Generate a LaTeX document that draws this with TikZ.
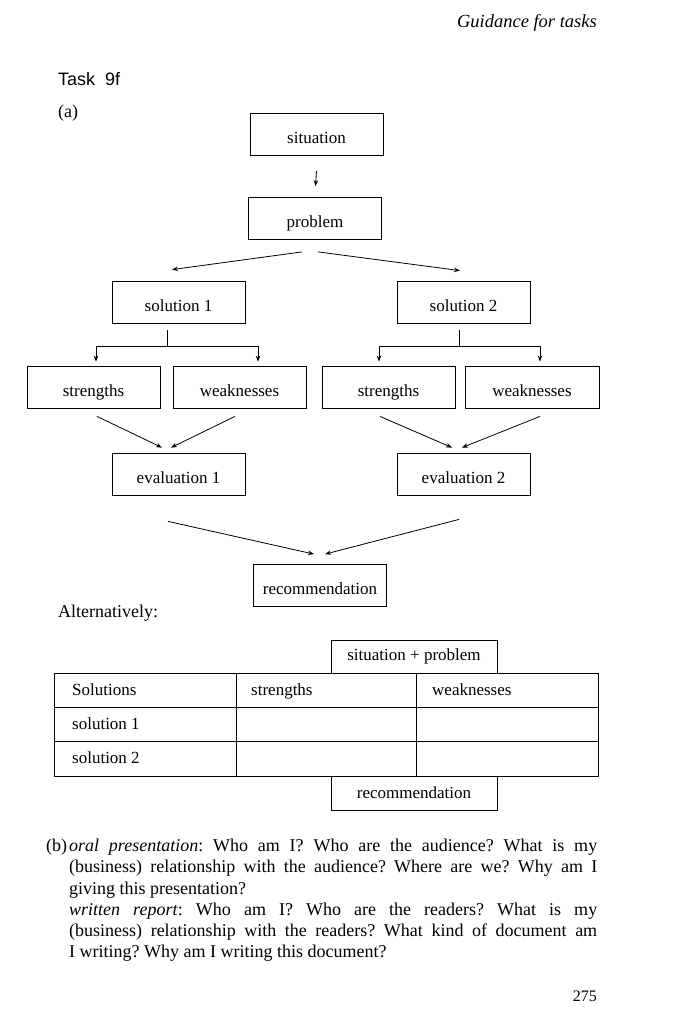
\documentclass[tikz,border=0pt]{standalone}
\usepackage{fontspec}
\setmainfont{Liberation Serif}
\newfontfamily\sansf{Liberation Sans}
\usetikzlibrary{arrows.meta,calc}
\frenchspacing
\begin{document}
\begin{tikzpicture}[x=1pt,y=-1pt,
  box/.style={draw, line width=0.8pt, minimum width=133pt, minimum height=42pt, inner sep=0pt, text height=20pt, text depth=2pt, font=\fontsize{17}{19}\selectfont},
  arr/.style={-{Stealth[length=6pt,width=4.5pt]}, line width=0.8pt},
  ln/.style={line width=0.8pt},
  body/.style={inner sep=0pt, font=\fontsize{18}{21.2}\selectfont},
  cell/.style={inner sep=0pt, anchor=base west, font=\fontsize{17}{19}\selectfont}]
\useasboundingbox (0,0) rectangle (676,1024);

% header
\node[inner sep=0pt, anchor=base east, font=\fontsize{18.5}{22}\selectfont\itshape] (head) at (597,28) {Guidance for tasks};
\node[inner sep=0pt, anchor=base west, font=\fontsize{18}{20}\sansf] (task) at (58,86) {Task\ \ 9f};
\node[body, anchor=base west] (pa) at (58,118) {(a)};

% flowchart boxes
\node[box] (sit) at (316.5,134.5) {situation};
\node[box] (prob) at (315,218.5) {problem};
\node[box] (sol1) at (178.5,302) {solution 1};
\node[box] (sol2) at (463.5,302) {solution 2};
\node[box] (str1) at (93.5,387) {strengths};
\node[box] (weak1) at (239.5,387) {weaknesses};
\node[box] (str2) at (388.5,387) {strengths};
\node[box, minimum width=134pt] (weak2) at (532,387) {weaknesses};
\node[box] (ev1) at (178.5,474) {evaluation 1};
\node[box] (ev2) at (463.5,474) {evaluation 2};
\node[box] (rec) at (320,585.5) {recommendation};

% connectors
\draw[arr] ($(sit.south)+(0,15)$) -- ($(prob.north)+(0.5,-11)$);
\draw[arr] ($(prob.south)+(-13,12)$) -- ($(sol1.north)+(-6.5,-11)$);
\draw[arr] ($(prob.south)+(3,12)$) -- ($(sol2.north)+(-3.5,-10)$);

\coordinate (j1) at ($(sol1.south)+(-11,23)$);
\draw[ln] ($(sol1.south)+(-11,7)$) -- (j1);
\draw[arr] (j1) -| ($(str1.north)+(2.5,-4)$);
\draw[arr] (j1) -| ($(weak1.north)+(18.5,-4)$);
\coordinate (j2) at ($(sol2.south)+(-4.5,23)$);
\draw[ln] ($(sol2.south)+(-4.5,7)$) -- (j2);
\draw[arr] (j2) -| ($(str2.north)+(-9.5,-4)$);
\draw[arr] (j2) -| ($(weak2.north)+(8,-4)$);

\draw[arr] ($(str1.south)+(3.5,8)$) -- ($(ev1.north)+(-16.5,-5)$);
\draw[arr] ($(weak1.south)+(-4.5,8)$) -- ($(ev1.north)+(-7.5,-5)$);
\draw[arr] ($(str2.south)+(-8.5,8)$) -- ($(ev2.north)+(-11.5,-5)$);
\draw[arr] ($(weak2.south)+(8,8)$) -- ($(ev2.north)+(-1.5,-5)$);

\draw[arr] ($(ev1.south)+(-10.5,26)$) -- ($(rec.north)+(-6,-10)$);
\draw[arr] ($(ev2.south)+(-4.5,24)$) -- ($(rec.north)+(5,-10)$);

% alternatively
\node[body, anchor=base west] (alt) at (58,617) {Alternatively:};

% table
\node[draw, ln, minimum width=166pt, minimum height=33pt, inner sep=0pt, text height=11pt, text depth=4pt, font=\fontsize{17}{19}\selectfont] (sp) at (414,656.5) {situation + problem};
\draw[ln] (54,673) rectangle (598,776);
\draw[ln] (54,707) -- (598,707);
\draw[ln] (54,741) -- (598,741);
\draw[ln] (236,673) -- (236,776);
\draw[ln] (416,673) -- (416,776);
\node[cell] (c11) at (72,695) {Solutions};
\node[cell] (c12) at (251,695) {strengths};
\node[cell] (c13) at (432,695) {weaknesses};
\node[cell] (c21) at (72,729) {solution 1};
\node[cell] (c31) at (72,763) {solution 2};
\coordinate (rtl) at (331,776);
\coordinate (rbr) at (497,810);
\draw[ln] (rtl) |- (rbr) -- (rbr |- rtl);
\node[inner sep=0pt, anchor=base, font=\fontsize{17}{19}\selectfont] (rec2) at (414,798) {recommendation};

% part (b)
\node[body, anchor=base west] (pb) at (46,851) {(b)};
\node[body, anchor=north west, text width=528pt, align=justify] (txt) at (69,839) {\textit{oral presentation}: Who am I? Who are the audience? What is my\linebreak (business) relationship with the audience? Where are we? Why am I\linebreak giving this presentation?\\ \textit{written report}: Who am I? Who are the readers? What is my\linebreak (business) relationship with the readers? What kind of document am\linebreak I writing? Why am I writing this document?};

\node[inner sep=0pt, anchor=base east, font=\fontsize{16}{19}\selectfont] (pg) at (597,1001) {275};
\end{tikzpicture}
\end{document}
